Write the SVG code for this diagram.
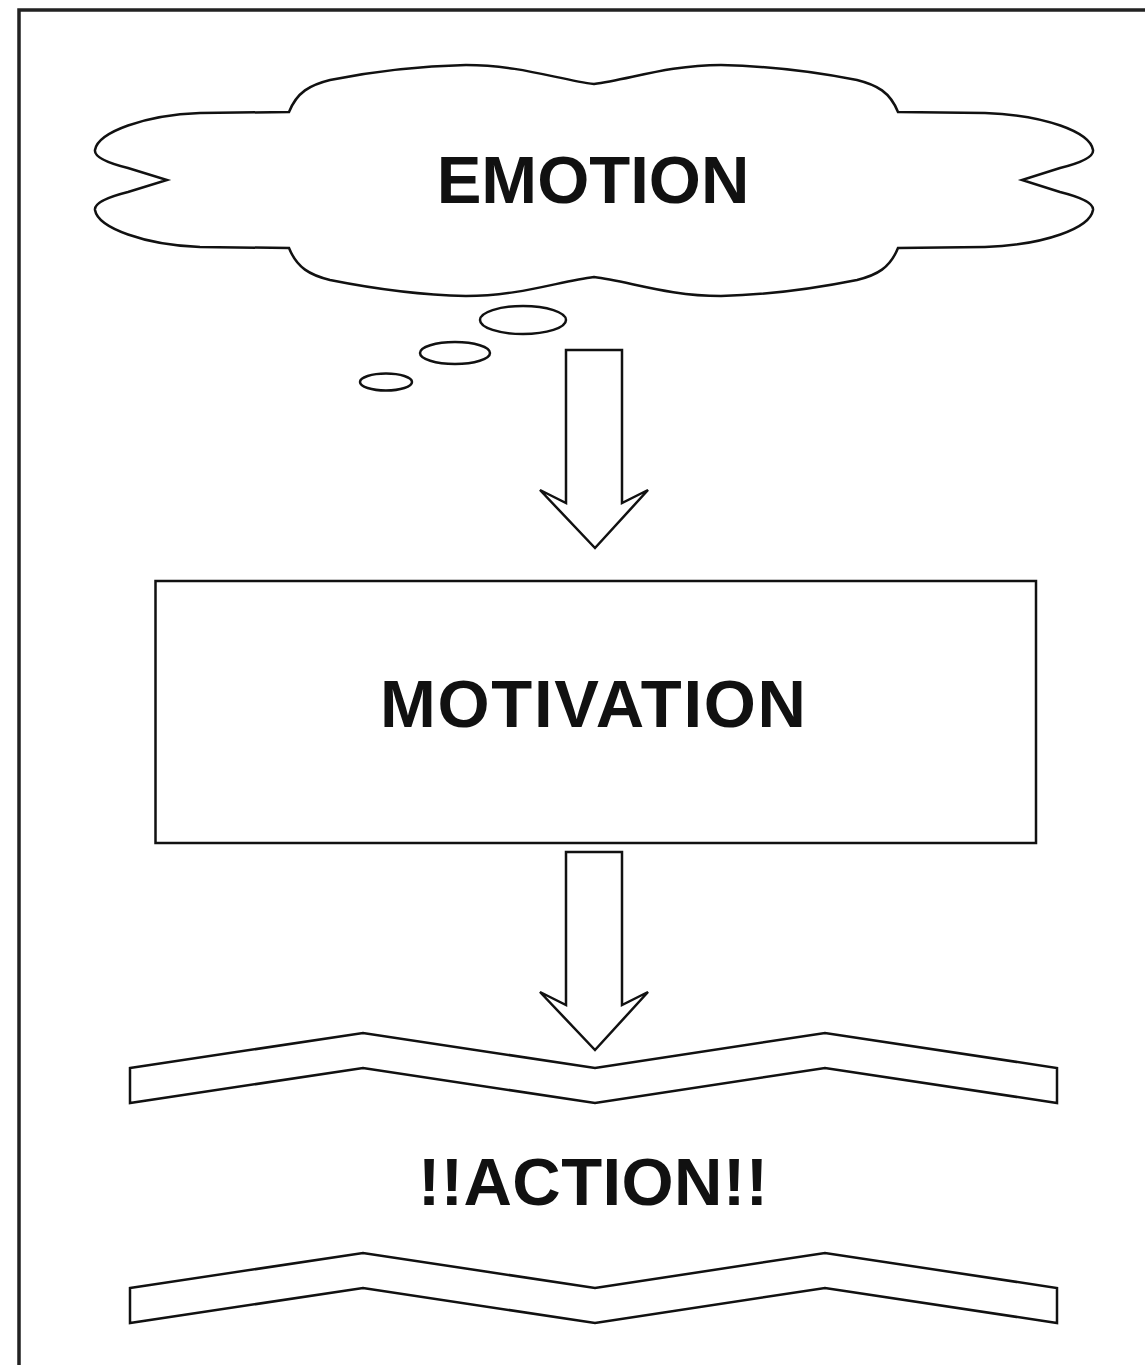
<svg xmlns="http://www.w3.org/2000/svg" width="1145" height="1365" viewBox="0 0 1145 1365">
<style>
.ln{fill:#fff;stroke:#111;stroke-width:2.5;stroke-linejoin:miter}
.lbl{font-family:"Liberation Sans",Arial,sans-serif;font-weight:bold;font-size:67px;fill:#111;text-anchor:middle}
</style>
<rect x="0" y="0" width="1145" height="1365" fill="#fff"/>
<g id="frame"><path d="M19,1400 L19,10 L1200,10" fill="none" stroke="#222" stroke-width="3.5"/></g>
<g id="emotion">
<path class="ln" d="M289,112 C297,92 310,85 330,80 C370,72 420,66 466,65 C520,65 560,80 594,84 C628,80 668,65 721,65 C767,66 817,72 857,80 C877,85 890,92 898,112 L985,113 C1045,115 1090,132 1093,150 C1094,157 1080,163 1060,168 L1022,180 L1060,192 C1080,197 1094,203 1093,210 C1090,228 1045,245 985,247 L898,248 C890,268 877,275 857,280 C817,288 767,295 721,296 C668,296 628,281 594,277 C560,281 520,296 466,296 C420,295 370,288 330,280 C310,275 297,268 289,248 L200,247 C145,245 98,228 95,210 C94,203 108,197 128,192 L167,180 L128,168 C108,163 94,157 95,150 C98,132 145,115 200,113 Z"/>
<text class="lbl" x="593" y="203">EMOTION</text>
</g>
<g id="bubbles">
<ellipse class="ln" cx="523" cy="320" rx="43" ry="14"/>
<ellipse class="ln" cx="455" cy="353" rx="35" ry="11"/>
<ellipse class="ln" cx="386" cy="382" rx="26" ry="8.5"/>
</g>
<g id="motivation">
<rect class="ln" x="155.5" y="581" width="880.5" height="262"/>
<text class="lbl" x="593" y="727" textLength="426" lengthAdjust="spacing">MOTIVATION</text>
</g>
<g id="action">
<polygon class="ln" points="130,1068 363,1033 595,1068 825,1033 1057,1068 1057,1103 825,1068 595,1103 363,1068 130,1103"/>
<text class="lbl" x="593" y="1205" textLength="350" lengthAdjust="spacing">!!ACTION!!</text>
<polygon class="ln" points="130,1288 363,1253 595,1288 825,1253 1057,1288 1057,1323 825,1288 595,1323 363,1288 130,1323"/>
</g>
<g id="connectors">
<polygon class="ln" points="566,350 622,350 622,503 648,490 595,548 540,490 566,503"/>
<polygon class="ln" points="566,852 622,852 622,1005 648,992 595,1050 540,992 566,1005"/>
</g>
</svg>
